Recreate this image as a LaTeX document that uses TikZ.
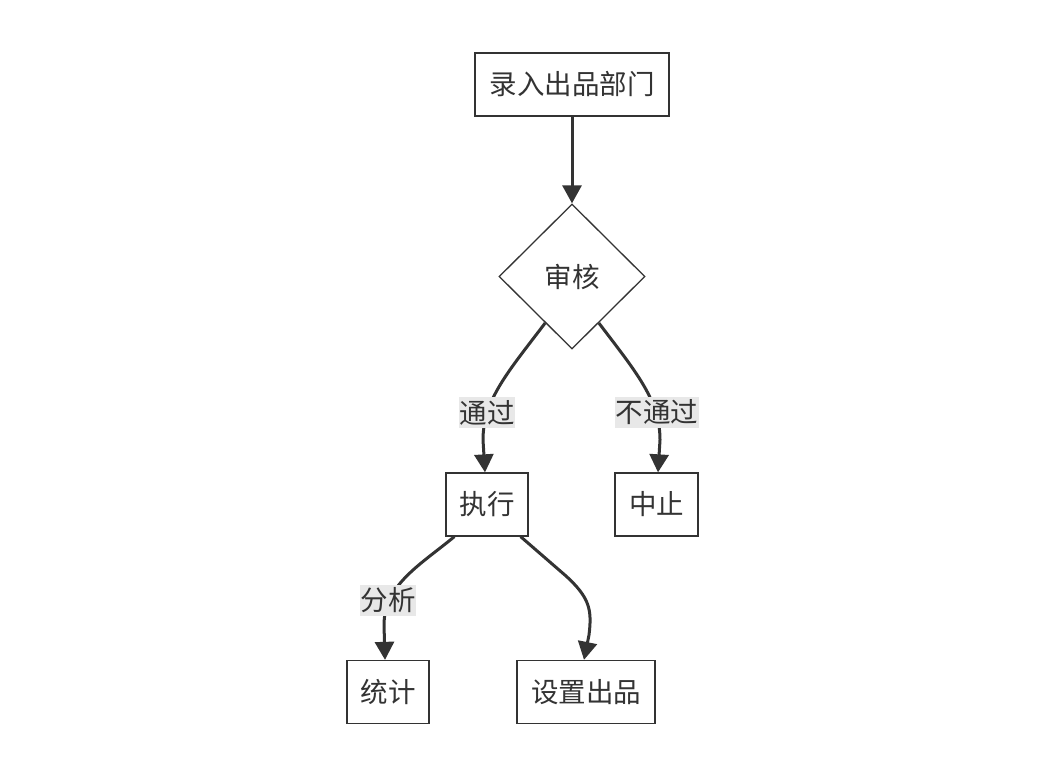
\documentclass[tikz,border=0pt]{standalone}
\usepackage{fontspec}
\newfontfamily\cjk{Noto Sans CJK SC}
\usetikzlibrary{shapes.geometric,arrows.meta}
\definecolor{ink}{HTML}{333333}
\definecolor{lblbg}{HTML}{E8E8E8}
\tikzset{
  box/.style={draw=ink, line width=1.3pt, fill=white, inner sep=0pt, minimum height=63pt, text=ink, font=\cjk\fontsize{27.5}{32}\selectfont},
  decision/.style={diamond, draw=ink, line width=1.3pt, fill=white, inner sep=0pt, minimum width=146pt, minimum height=145pt, text=ink, font=\cjk\fontsize{27.5}{32}\selectfont},
  edge/.style={draw=ink, line width=3pt, -{Triangle[length=18pt,width=19pt]}},
  lbl/.style={fill=lblbg, inner sep=0pt, minimum height=31pt, text=ink, font=\cjk\fontsize{27.5}{32}\selectfont},
}
\begin{document}
\begin{tikzpicture}[x=1pt,y=-1pt]
\useasboundingbox (0,0) rectangle (1046,781);
\node[box, minimum width=194pt] (a) at (572,84.5) {录入出品部门};
\node[decision] (d) at (572,276.5) {审核};
\node[box, minimum width=82pt] (e) at (487,504.5) {执行};
\node[box, minimum width=83pt] (s) at (656.5,504.5) {中止};
\node[box, minimum width=82pt] (t) at (388,692) {统计};
\node[box, minimum width=138pt] (p) at (586,692) {设置出品};

\draw[edge] (a.south) -- (d.north);
\draw[edge] (d.240) .. controls (508,372) and (483,400) .. (483,440) -- ([xshift=-2pt]e.north);
\draw[edge] (d.300) .. controls (636,372) and (660,400) .. (660,440) -- ([xshift=1.5pt]s.north);
\draw[edge] ([xshift=9pt]e.south west) .. controls (420,565) and (384,585) .. (384,625) -- ([xshift=-3pt]t.north);
\draw[edge] ([xshift=-8pt]e.south east) -- (566,576) .. controls (590,598) and (592,610) .. (589,635) -- ([xshift=-2pt]p.north);

\node[lbl, minimum width=56pt] (l1) at (487,412.5) {通过};
\node[lbl, minimum width=84pt] (l2) at (657,412.5) {不通过};
\node[lbl, minimum width=56pt] (l3) at (388,600) {分析};
\end{tikzpicture}
\end{document}
